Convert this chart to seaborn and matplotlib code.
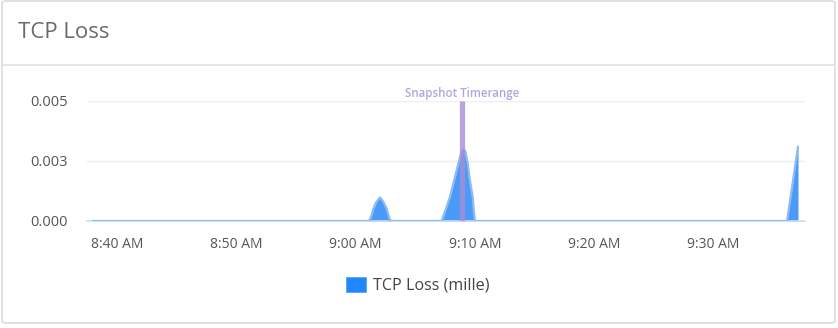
import matplotlib
matplotlib.use("Agg")
import matplotlib.pyplot as plt
import matplotlib.dates as mdates
from matplotlib.patches import FancyBboxPatch, Rectangle
from matplotlib.lines import Line2D
import seaborn as sns
import pandas as pd

sns.set_theme(style="white")
plt.rcParams['font.family'] = ['Open Sans', 'DejaVu Sans']

# ---- data ----
times = ["08:38:00", "09:01:09", "09:01:19", "09:01:29", "09:01:45", "09:02:03",
         "09:02:20", "09:02:37", "09:02:47", "09:02:56",
         "09:07:13", "09:07:30", "09:07:55", "09:08:16", "09:08:37", "09:08:50",
         "09:09:02", "09:09:12", "09:09:24", "09:09:35", "09:09:49", "09:09:55",
         "09:10:00", "09:36:10", "09:37:05"]
loss = [0.0, 0.0, 0.0002, 0.0005, 0.0008, 0.00098,
        0.0008, 0.0005, 0.0002, 0.0,
        0.0, 0.0004, 0.00101, 0.0017, 0.0024, 0.0028,
        0.0030, 0.0029, 0.0024, 0.0017, 0.0010, 0.0004,
        0.0, 0.0, 0.0031]
series_name = "TCP Loss (mille)"
title = "TCP Loss"
snapshot_time = "09:08:55"
snapshot_label = "Snapshot Timerange"
y_ticks = [0.0, 0.0025, 0.005]
y_tick_labels = ["0.000", "0.003", "0.005"]
x_ticks = ["08:40", "08:50", "09:00", "09:10", "09:20", "09:30"]
x_tick_labels = ["8:40 AM", "8:50 AM", "9:00 AM", "9:10 AM", "9:20 AM", "9:30 AM"]

day = "2020-01-01 "
df = pd.DataFrame({"time": pd.to_datetime([day + t for t in times]), "loss": loss})

W, H = 838, 328
fig = plt.figure(figsize=(W / 100, H / 100), dpi=100)
fig.patch.set_facecolor("white")

def fx(px):
    return px / W

def fy(py):
    return 1 - py / H

# card frame
card = FancyBboxPatch((fx(2), fy(323)), fx(835) - fx(2), fy(1) - fy(323),
                      boxstyle="round,pad=0,rounding_size=0.006",
                      transform=fig.transFigure, facecolor="none",
                      edgecolor="#dcdcdc", linewidth=1.2, zorder=0)
fig.patches.append(card)
fig.add_artist(Line2D([fx(2), fx(835)], [fy(65), fy(65)], transform=fig.transFigure,
                      color="#e2e2e2", linewidth=1.2))
fig.text(fx(18), fy(32), title, fontsize=16, color="#6a6a6a", va="center", ha="left")

# axes
left, right, top, bottom = 87, 805, 101, 221
ax = fig.add_axes([fx(left), fy(bottom), fx(right) - fx(left), fy(top) - fy(bottom)])
ax.set_facecolor("none")
ax.set_zorder(5)

sns.lineplot(data=df, x="time", y="loss", ax=ax, color="#8dbbf3", linewidth=1.6,
             legend=False, zorder=3)
ax.fill_between(df["time"], df["loss"], 0, color="#4a9af8", linewidth=0, zorder=2)

x0 = pd.Timestamp(day + "08:40:00")
ax.set_xlim(x0 - pd.Timedelta(minutes=2.51), x0 + pd.Timedelta(minutes=57.67))
ax.set_ylim(0, 0.005)

ax.set_yticks(y_ticks)
ax.set_yticklabels(y_tick_labels)
ax.set_xticks(pd.to_datetime([day + t for t in x_ticks]))
ax.set_xticklabels(x_tick_labels)
ax.tick_params(axis="y", length=0, pad=14, labelsize=10.5, labelcolor="#555555")
ax.tick_params(axis="x", length=10, width=1, color="#cfdbea", pad=1.5, labelsize=10,
               labelcolor="#555555", direction="out")
for yv in y_ticks[1:]:
    ax.axhline(yv, color="#eeeeee", linewidth=1, zorder=0)
for s in ["left", "right", "top"]:
    ax.spines[s].set_visible(False)
ax.spines["bottom"].set_color("#c9dcf2")
ax.spines["bottom"].set_linewidth(1.2)
ax.set_xlabel("")
ax.set_ylabel("")

# snapshot marker
st = pd.Timestamp(day + snapshot_time)
ax.plot([st, st], [0, 0.005], color="#a88fd6", alpha=0.8, linewidth=3.8,
        solid_capstyle="butt", zorder=4)
ax.text(st, 0.00503, snapshot_label, ha="center", va="bottom", fontsize=8.3,
        color="#b3a4e0", fontweight="semibold", clip_on=False)

# legend
fig.patches.append(Rectangle((fx(346), fy(292)), fx(366) - fx(346), fy(277) - fy(292),
                             transform=fig.transFigure, facecolor="#1f88ff",
                             edgecolor="#5aa5f5", linewidth=0.6))
fig.text(fx(373), fy(285), series_name, fontsize=11.6, color="#444444",
         va="center", ha="left")

fig.savefig("out.png", dpi=100, facecolor="white")
